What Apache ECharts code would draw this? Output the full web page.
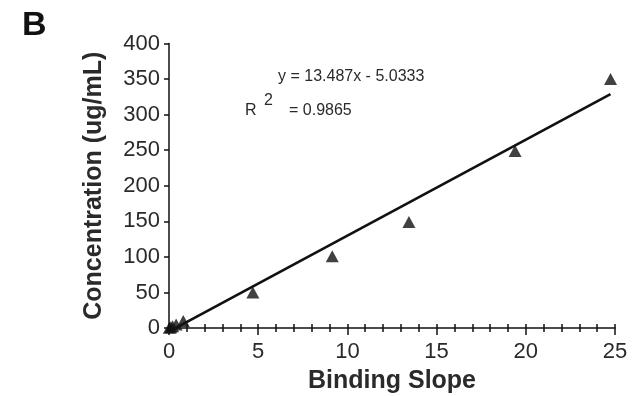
<!DOCTYPE html>
<html>
<head>
<meta charset="utf-8">
<script src="https://cdn.jsdelivr.net/npm/echarts@6/dist/echarts.min.js"></script>
<style>
html,body{margin:0;padding:0;background:#fff;}
#chart{width:638px;height:396px;}
</style>
</head>
<body>
<div id="chart"></div>
<script>
// Data
const pointX = [0.02, 0.1, 0.2, 0.4, 0.8, 4.7, 9.15, 13.45, 19.4, 24.75];
const pointY = [0.5, 1, 2.5, 5, 10, 50, 101, 149, 249, 350];
const trendX = [0, 24.75];
const trendY = [-5.03, 328.8];
const xTicks = [0, 5, 10, 15, 20, 25];
const yTicks = [0, 50, 100, 150, 200, 250, 300, 350, 400];
const xTitle = 'Binding Slope';
const yTitle = 'Concentration (ug/mL)';
const panelLabel = 'B';
const eqText = 'y = 13.487x - 5.0333';
const r2Value = '= 0.9865';

const FONT = '"Liberation Sans", Arial, sans-serif';
const TXT = '#2a2a2a';
const INK = '#111';

const chart = echarts.init(document.getElementById('chart'), null, {renderer: 'canvas'});
const xMin = xTicks[0], xMax = xTicks[xTicks.length - 1];
const xInt = xTicks[1] - xTicks[0];
const yMin = yTicks[0], yMax = yTicks[yTicks.length - 1];
const yInt = yTicks[1] - yTicks[0];

chart.setOption({
  animation: false,
  backgroundColor: '#fff',
  grid: {left: 169, right: 23, top: 43.5, bottom: 68, containLabel: false, outerBoundsMode: 'none'},
  graphic: [
    {type: 'text', left: 22, top: 9, style: {text: panelLabel, font: 'bold 34px ' + FONT, fill: INK}},
    {type: 'text', left: 278, top: 69, style: {text: eqText, font: '16px ' + FONT, fill: TXT}},
    {type: 'text', left: 245, top: 103, style: {text: 'R', font: '16px ' + FONT, fill: TXT}},
    {type: 'text', left: 264, top: 93, style: {text: '2', font: '16px ' + FONT, fill: TXT}},
    {type: 'text', left: 289, top: 103, style: {text: r2Value, font: '16px ' + FONT, fill: TXT}}
  ],
  xAxis: [
    {
      type: 'value', min: xMin, max: xMax, interval: xInt, position: 'bottom',
      name: xTitle, nameLocation: 'middle', nameGap: 41,
      nameTextStyle: {fontFamily: FONT, fontWeight: 'bold', fontSize: 25, color: TXT},
      axisLine: {show: true, lineStyle: {color: INK, width: 1.5}},
      axisTick: {show: true, inside: false, length: 7, lineStyle: {color: INK, width: 1.5}},
      minorTick: {show: true, splitNumber: 5, length: 4, lineStyle: {color: INK, width: 1.5}},
      axisLabel: {fontFamily: FONT, fontSize: 22, color: TXT, margin: 13},
      splitLine: {show: false}
    },
    {
      type: 'value', min: xMin, max: xMax, interval: xInt, position: 'bottom',
      axisLine: {show: false},
      axisTick: {show: true, inside: true, length: 4, lineStyle: {color: INK, width: 1.5}},
      minorTick: {show: true, splitNumber: 5, length: 4, lineStyle: {color: INK, width: 1.5}},
      axisLabel: {show: false},
      splitLine: {show: false}
    }
  ],
  yAxis: {
    type: 'value', min: yMin, max: yMax, interval: yInt,
    name: yTitle, nameLocation: 'middle', nameGap: 62,
    nameTextStyle: {fontFamily: FONT, fontWeight: 'bold', fontSize: 25, color: TXT},
    axisLine: {show: true, lineStyle: {color: INK, width: 1.5}},
    axisTick: {show: true, inside: false, length: 5, lineStyle: {color: INK, width: 1.5}},
    axisLabel: {fontFamily: FONT, fontSize: 22, color: TXT, margin: 9},
    splitLine: {show: false}
  },
  series: [
    {
      type: 'line', xAxisIndex: 0,
      data: trendX.map((x, i) => [x, trendY[i]]),
      showSymbol: false, symbol: 'none', clip: true,
      lineStyle: {color: INK, width: 2.6}, z: 2
    },
    {
      type: 'scatter', xAxisIndex: 0,
      data: pointX.map((x, i) => [x, pointY[i]]),
      symbol: 'triangle', symbolSize: [13, 12],
      itemStyle: {color: INK}, z: 3
    }
  ]
});
</script>
</body>
</html>
